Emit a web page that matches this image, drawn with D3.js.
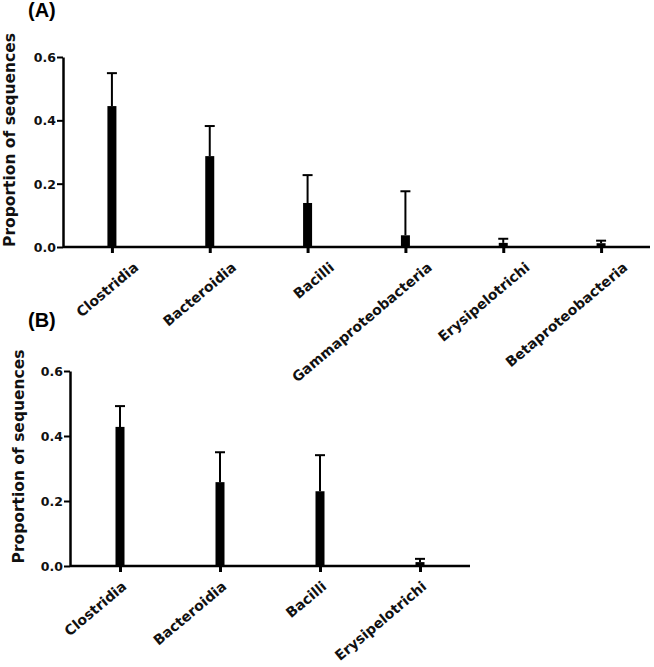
<!DOCTYPE html>
<html>
<head>
<meta charset="utf-8">
<script src="https://cdn.jsdelivr.net/npm/d3@7"></script>
<style>
  html, body { margin: 0; padding: 0; background: #fff; }
  svg { display: block; }
</style>
</head>
<body>
<svg id="chart" width="654" height="667"></svg>
<script>
// ---- data ----
const categoriesA = ["Clostridia", "Bacteroidia", "Bacilli", "Gammaproteobacteria", "Erysipelotrichi", "Betaproteobacteria"];
const meansA = [0.445, 0.287, 0.139, 0.037, 0.013, 0.012];
const errorsA = [0.104, 0.095, 0.088, 0.139, 0.013, 0.008];

const categoriesB = ["Clostridia", "Bacteroidia", "Bacilli", "Erysipelotrichi"];
const meansB = [0.428, 0.258, 0.230, 0.012];
const errorsB = [0.064, 0.092, 0.111, 0.010];

const yTicks = [0, 0.2, 0.4, 0.6];
const yTitle = "Proportion of sequences";
const panelLabels = ["(A)", "(B)"];

const svg = d3.select("#chart");
const FONT = "'DejaVu Sans', sans-serif";

function panel(cfg) {
  const g = svg.append("g");
  const x = d3.scalePoint().domain(cfg.categories).range([cfg.x0, cfg.x1]).padding(0.5);
  const y = d3.scaleLinear().domain([0, 0.6]).range([cfg.yBottom, cfg.yTop]);
  const rows = cfg.categories.map((c, i) => ({ c, m: cfg.means[i], e: cfg.errors[i] }));

  // error bars (upper only)
  g.selectAll("line.err").data(rows).enter().append("line")
    .attr("x1", d => x(d.c)).attr("x2", d => x(d.c))
    .attr("y1", d => y(d.m)).attr("y2", d => y(d.m + d.e))
    .attr("stroke", "#000").attr("stroke-width", 2);
  g.selectAll("line.cap").data(rows).enter().append("line")
    .attr("x1", d => x(d.c) - 5).attr("x2", d => x(d.c) + 5)
    .attr("y1", d => y(d.m + d.e)).attr("y2", d => y(d.m + d.e))
    .attr("stroke", "#000").attr("stroke-width", 2);

  // bars
  g.selectAll("rect.bar").data(rows).enter().append("rect")
    .attr("x", d => x(d.c) - 4.5).attr("width", 9)
    .attr("y", d => y(d.m)).attr("height", d => y(0) - y(d.m))
    .attr("fill", "#000");

  // y axis
  const ya = g.append("g").attr("transform", `translate(${cfg.x0},0)`)
    .call(d3.axisLeft(y).tickValues(yTicks).tickFormat(d3.format(".1f")).tickSize(6).tickSizeOuter(0).tickPadding(1));
  ya.select(".domain").attr("stroke-width", 2.5);
  ya.selectAll(".tick line").attr("stroke-width", 2);
  ya.selectAll(".tick text").attr("font-family", FONT).attr("font-weight", "bold")
    .attr("font-size", "12.5px").attr("fill", "#111").attr("dy", "0.36em");

  // x axis
  const xa = g.append("g").attr("transform", `translate(0,${cfg.yBottom})`)
    .call(d3.axisBottom(x).tickSize(6).tickSizeOuter(0));
  xa.select(".domain").attr("d", `M${cfg.x0},0H${cfg.x1}`).attr("stroke-width", 2.5);
  xa.selectAll(".tick line").attr("stroke-width", 3);
  xa.selectAll(".tick text")
    .attr("font-family", FONT).attr("font-weight", "bold").attr("font-size", "14px").attr("fill", "#111")
    .attr("x", 0).attr("y", 0).attr("dy", 0)
    .attr("text-anchor", "end")
    .attr("transform", `translate(${cfg.labelDx},22) rotate(-40)`);

  // y title
  g.append("text")
    .attr("transform", `translate(${cfg.titleX},${(cfg.yTop + cfg.yBottom) / 2 - 12}) rotate(-90)`)
    .attr("text-anchor", "middle")
    .attr("font-family", FONT).attr("font-weight", "bold").attr("font-size", "15.5px").attr("fill", "#111")
    .text(yTitle);

  // panel label
  g.append("text")
    .attr("x", 28).attr("y", cfg.letterY)
    .attr("font-family", "'Liberation Sans', Arial, sans-serif").attr("font-weight", "bold")
    .attr("font-size", "20px").attr("fill", "#000")
    .text(cfg.letter);
}

panel({ categories: categoriesA, means: meansA, errors: errorsA,
  x0: 63, x1: 650, yBottom: 247, yTop: 57, labelDx: 27, titleX: 14.5, letterY: 17, letter: panelLabels[0] });
panel({ categories: categoriesB, means: meansB, errors: errorsB,
  x0: 70, x1: 470, yBottom: 566, yTop: 371, labelDx: 7, titleX: 24, letterY: 327, letter: panelLabels[1] });
</script>
</body>
</html>
